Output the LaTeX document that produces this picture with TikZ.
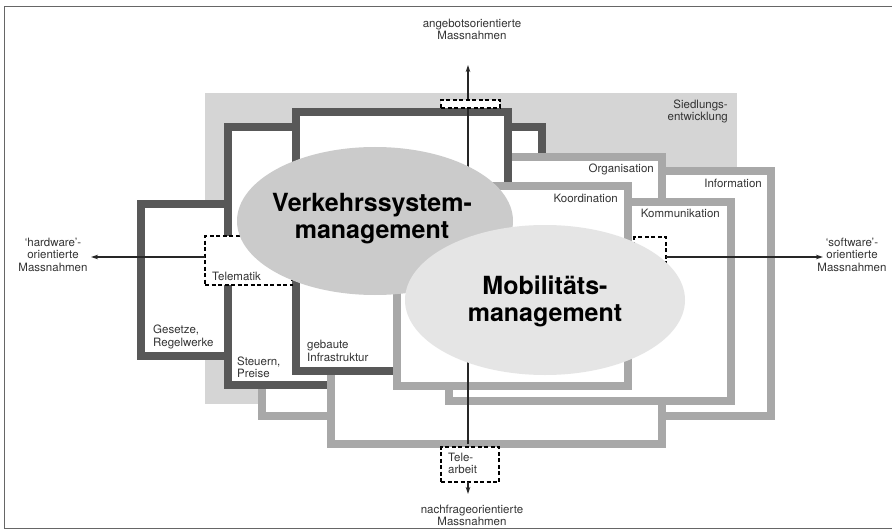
\documentclass[tikz,border=0pt]{standalone}
\usepackage{fontspec}
\setmainfont{TeX Gyre Heros}
\usetikzlibrary{arrows.meta}

\definecolor{framedark}{RGB}{88,88,88}
\definecolor{framelight}{RGB}{168,168,168}
\definecolor{siedlung}{RGB}{213,213,213}
\definecolor{vsmgray}{RGB}{203,203,203}
\definecolor{mmgray}{RGB}{229,229,229}

\tikzset{
  darkframe/.style={draw=framedark,line width=8.5pt,fill=white},
  lightframe/.style={draw=framelight,line width=8.5pt,fill=white},
  gatebox/.style={draw=black,fill=white,line width=1.6pt,dash pattern=on 4pt off 2.5pt,inner sep=0pt,outer sep=0pt},
  axisline/.style={black!85,line width=1.1pt,-{Stealth[length=7pt,width=4.5pt]}},
  smalltxt/.style={font=\fontsize{11.5}{12.5}\selectfont,text=black!80,inner sep=0pt},
  bigtxt/.style={font=\fontsize{25}{27}\selectfont\bfseries,align=center,inner sep=0pt},
}

\begin{document}
\begin{tikzpicture}[x=1pt,y=1pt,yscale=-1]
\useasboundingbox (0,0) rectangle (892,532);
\clip (0,0) rectangle (892,532);
%picture border
\draw[black!60,line width=0.8pt] (4.5,6) rectangle (900,528.5);
%Shape: Rectangle [Siedlungsentwicklung]
\fill[siedlung] (205,93) rectangle (737,404);
%Shape: Rectangle [Gesetze, Regelwerke]
\draw[darkframe] (141,204) rectangle (228,356);
%Shape: Rectangle [Information]
\draw[lightframe] (262,171) rectangle (771,416);
%Shape: Rectangle [Steuern, Preise]
\draw[darkframe] (228,127) rectangle (542,385);
%Shape: Rectangle [Organisation]
\draw[lightframe] (331,157) rectangle (662,444);
%Shape: Rectangle [gebaute Infrastruktur]
\draw[darkframe] (296,112) rectangle (508,371);
%Shape: Rectangle [Kommunikation]
\draw[lightframe] (449,202) rectangle (731,401);
%Shape: Rectangle [Koordination]
\draw[lightframe] (397,186) rectangle (628,386);

%axes
\coordinate (toptip) at (468,65);
\coordinate (axisfoot) at (468,444);
\coordinate (hwtip) at (91,257);
\coordinate (swtip) at (823,257);
\coordinate (bottip) at (468,494);
\draw[axisline] (axisfoot) -- (toptip);

%dashed boxes
\node[gatebox,minimum width=59pt,minimum height=8pt] (gateoben) at (470.5,104) {};
\node[gatebox,minimum width=87pt,minimum height=49pt] (telematik) at (248.5,260.5) {};
\node[gatebox,minimum width=32pt,minimum height=48pt] (kommgate) at (650,261) {};
\node[gatebox,minimum width=58pt,minimum height=35pt] (telearbeit) at (470,464.5) {};
\draw[axisline] (telematik.west |- hwtip) -- (hwtip);
\draw[axisline] (kommgate.east |- swtip) -- (swtip);
\draw[axisline] (telearbeit.south -| bottip) -- (bottip);

%Shape: Ellipses
\fill[vsmgray] (375,221) ellipse [x radius=138, y radius=74];
\fill[mmgray] (545,300) ellipse [x radius=140, y radius=75];

% Text Node
\node[bigtxt] (vsm) at (372,219) {Verkehrssystem-\\management};
% Text Node
\node[bigtxt] (mm) at (545,301) {Mobilitäts-\\management};
% Text Node
\node[smalltxt,align=center,anchor=north] (angebot) at (472,18.5) {angebotsorientierte\\Massnahmen};
% Text Node
\node[smalltxt,align=center,anchor=north] (nachfrage) at (472,504.5) {nachfrageorientierte\\Massnahmen};
% Text Node
\node[smalltxt,align=center,anchor=north] (hwlabel) at (53,237.5) {`hardware'-\\orientierte\\Massnahmen};
% Text Node
\node[smalltxt,align=center,anchor=north] (swlabel) at (852,237.5) {`software'-\\orientierte\\Massnahmen};
% Text Node
\node[smalltxt,align=right,anchor=north east] (siedlungtxt) at (728,99.5) {Siedlungs-\\entwicklung};
% Text Node
\node[smalltxt,align=left,anchor=north west] (gesetze) at (153,325) {Gesetze,\\Regelwerke};
% Text Node
\node[smalltxt,align=left,anchor=north west] (steuern) at (237,356.5) {Steuern,\\Preise};
% Text Node
\node[smalltxt,align=left,anchor=north west] (gebaut) at (307,340) {gebaute\\Infrastruktur};
% Text Node
\node[smalltxt,anchor=base west] (telematiktxt) at (212,280.5) {Telematik};
% Text Node
\node[smalltxt,align=left,anchor=north west] (telearbeittxt) at (448,452.5) {Tele-\\arbeit};
% Text Node
\node[smalltxt,anchor=base east] (orga) at (654,172) {Organisation};
% Text Node
\node[smalltxt,anchor=base east] (info) at (762,187.5) {Information};
% Text Node
\node[smalltxt,anchor=base east] (koord) at (618,202.5) {Koordination};
% Text Node
\node[smalltxt,anchor=base east] (kommu) at (720,217) {Kommunikation};
\end{tikzpicture}
\end{document}
